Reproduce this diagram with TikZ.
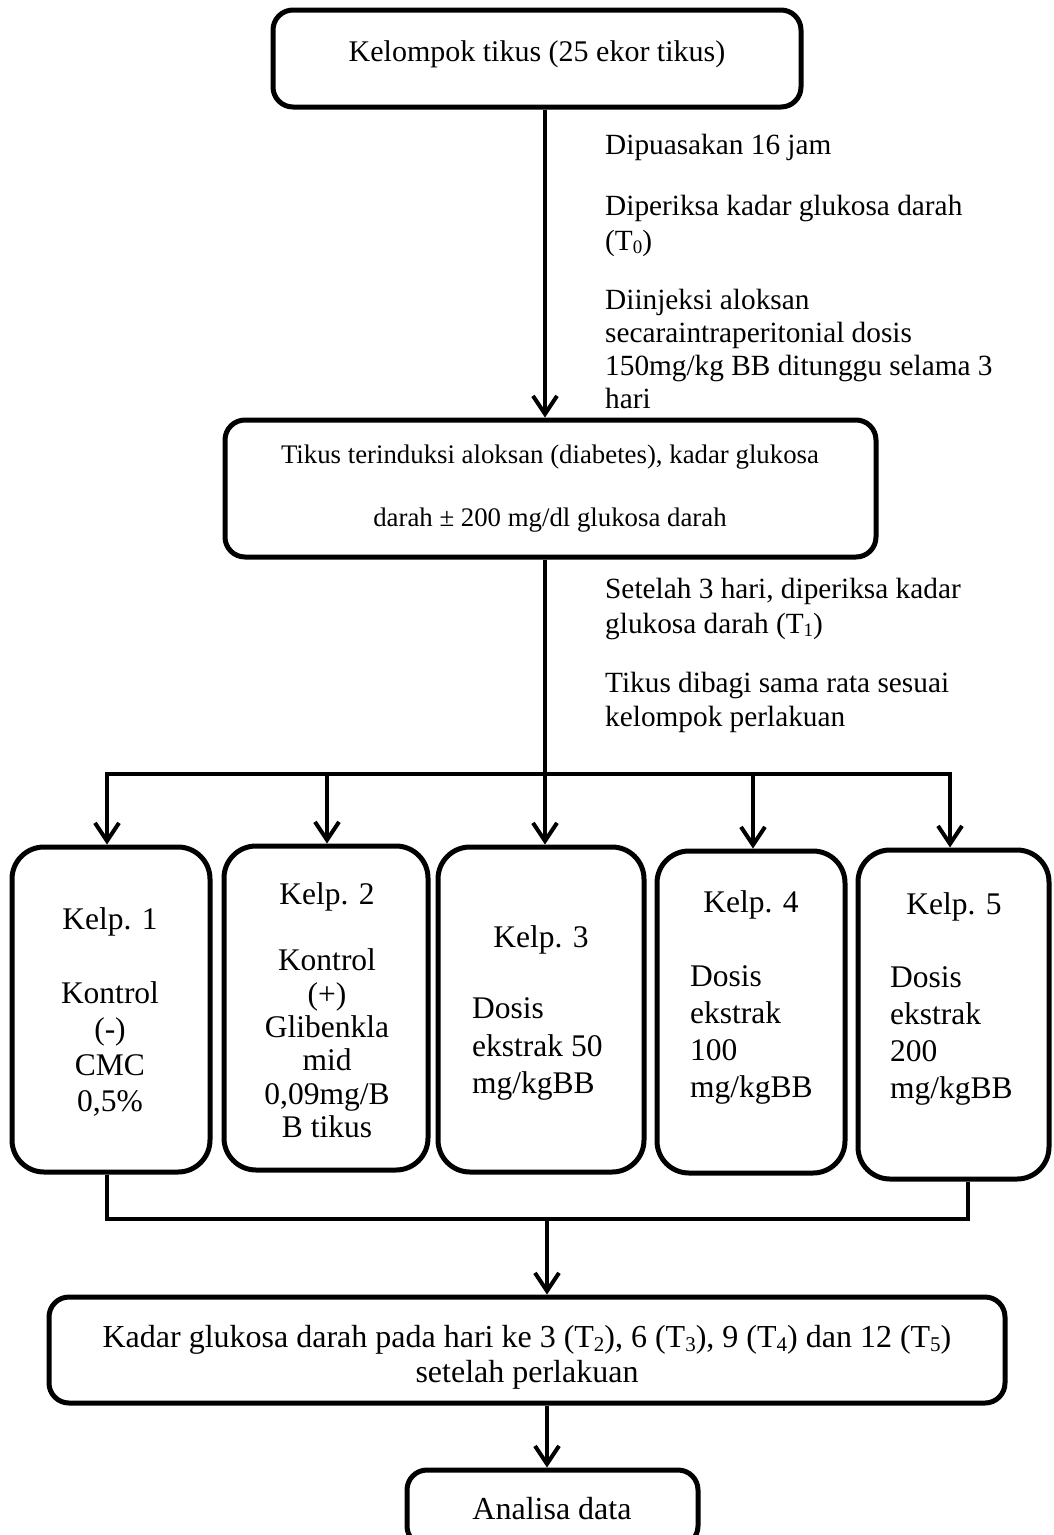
\documentclass[tikz,border=0pt]{standalone}
\usepackage{fontspec}
\setmainfont{Liberation Serif}
\usetikzlibrary{arrows.meta}
\newcommand\sbx[2]{\raisebox{-0.25ex}{\fontsize{#1}{#1}\selectfont #2}}
\begin{document}
\begin{tikzpicture}[x=1pt,y=-1pt,
  box/.style={draw=black, line width=5pt, rounded corners=20pt, inner sep=0pt},
  kbox/.style={draw=black, line width=5pt, rounded corners=32pt, inner sep=0pt},
  conn/.style={draw=black, line width=4pt},
  barb/.tip={Straight Barb[length=18pt,width=24pt]},
  arr/.style={conn, -barb},
  txt/.style={inner sep=0pt, align=center, font=\fontsize{29}{35}\selectfont},
  ann/.style={inner sep=0pt, anchor=west, align=left},
]
\clip (0,0) rectangle (1053,1535);
\fill[white] (0,0) rectangle (1053,1535);

% boxes
\node[box, minimum width=528pt, minimum height=97pt] (top) at (537,58.5) {};
\node[box, minimum width=651pt, minimum height=137pt] (mid) at (550.5,488.5) {};
\node[kbox, minimum width=198pt, minimum height=325pt] (k1) at (111,1009.5) {};
\node[kbox, minimum width=204pt, minimum height=324pt] (k2) at (326,1008) {};
\node[kbox, minimum width=206pt, minimum height=325pt] (k3) at (541,1009.5) {};
\node[kbox, minimum width=188pt, minimum height=322pt] (k4) at (751,1012) {};
\node[kbox, minimum width=191pt, minimum height=329pt] (k5) at (953.5,1014.5) {};
\node[box, minimum width=956pt, minimum height=106pt] (res) at (527,1350) {};
\node[box, minimum width=291pt, minimum height=76pt] (ana) at (552.5,1508) {};

% texts in boxes
\node[txt, font=\fontsize{30}{35}\selectfont] (toptxt) at (537,54) {Kelompok tikus (25 ekor tikus)};
\node[txt, font=\fontsize{26.8}{63}\selectfont] (midtxt) at (550,488.5)
  {Tikus terinduksi aloksan (diabetes), kadar glukosa\\darah ± 200 mg/dl glukosa darah};
\node[txt, font=\fontsize{31.5}{36}\selectfont] (k1txt) at (110,1012)
  {Kelp. 1\\[38pt]Kontrol\\(-)\\CMC\\0,5\%};
\node[txt, font=\fontsize{31.5}{33.4}\selectfont] (k2txt) at (327,1010.5)
  {Kelp. 2\\[32.6pt]Kontrol\\(+)\\Glibenkla\\mid\\0,09mg/B\\B tikus};
\node[txt, font=\fontsize{31.5}{35}\selectfont] (k3head) at (541,940) {Kelp. 3};
\node[ann, font=\fontsize{31.5}{37.5}\selectfont] (k3txt) at (472,1049)
  {Dosis\\ekstrak 50\\mg/kgBB};
\node[txt, font=\fontsize{31.5}{35}\selectfont] (k4head) at (751,905) {Kelp. 4};
\node[ann, font=\fontsize{31.5}{37}\selectfont] (k4txt) at (690,1034.5)
  {Dosis\\ekstrak\\100\\mg/kgBB};
\node[txt, font=\fontsize{31.5}{35}\selectfont] (k5head) at (954,907) {Kelp. 5};
\node[ann, font=\fontsize{31.5}{37.3}\selectfont] (k5txt) at (890,1036)
  {Dosis\\ekstrak\\200\\mg/kgBB};
\node[txt, font=\fontsize{32}{35}\selectfont] (restxt) at (527,1357.5)
  {Kadar glukosa darah pada hari ke 3 (T\sbx{21}{2}), 6 (T\sbx{21}{3}), 9 (T\sbx{21}{4}) dan 12 (T\sbx{21}{5})\\setelah perlakuan};
\node[txt, font=\fontsize{32}{35}\selectfont] (anatxt) at (552,1509) {Analisa data};

% annotations
\node[ann, font=\fontsize{29.3}{35}\selectfont] (a1) at (605,147) {Dipuasakan 16 jam};
\node[ann, font=\fontsize{29.3}{35}\selectfont] (a2) at (605,225.5)
  {Diperiksa kadar glukosa darah\\(T\sbx{19}{0})};
\node[ann, font=\fontsize{29.3}{33.3}\selectfont] (a3) at (605,349)
  {Diinjeksi aloksan\\secaraintraperitonial dosis\\150mg/kg BB ditunggu selama 3\\hari};
\node[ann, font=\fontsize{29.3}{35}\selectfont] (a4) at (605,608.5)
  {Setelah 3 hari, diperiksa kadar\\glukosa darah (T\sbx{19}{1})};
\node[ann, font=\fontsize{29.3}{34}\selectfont] (a5) at (605,702)
  {Tikus dibagi sama rata sesuai\\kelompok perlakuan};

% connectors
\coordinate (xc) at (545,0);
\coordinate (bl) at (107,774);
\coordinate (br) at (950,774);
\coordinate (d2) at (327,774);
\coordinate (d4) at (753,774);
\coordinate (cl) at (107,1219);
\coordinate (cr) at (968,1219);
\coordinate (cm) at (547,1219);

\draw[arr] (top.south -| xc) -- (mid.north -| xc);
\draw[arr] (mid.south -| xc) -- (k3.north -| xc);
\draw[conn, barb-barb, line join=miter] (k1.north -| bl) -- (bl) -- (br) -- (k5.north -| br);
\draw[arr] (d2) -- (k2.north -| d2);
\draw[arr] (d4) -- (k4.north -| d4);
\draw[conn, line join=miter] (k1.south -| cl) -- (cl) -- (cr) -- (k5.south -| cr);
\draw[arr] (cm) -- (res.north -| cm);
\draw[arr] (res.south -| cm) -- (ana.north -| cm);
\end{tikzpicture}
\end{document}
